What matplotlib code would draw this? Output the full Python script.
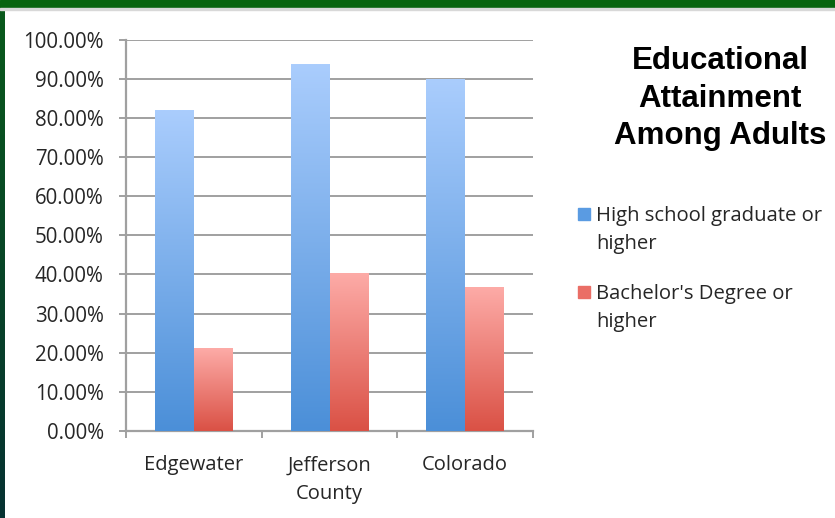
import matplotlib
matplotlib.use("Agg")
import matplotlib.pyplot as plt
import numpy as np
from matplotlib.colors import LinearSegmentedColormap
from matplotlib.patches import Rectangle

# Data
categories = ["Edgewater", "Jefferson\nCounty", "Colorado"]
series_names = ["High school graduate or\nhigher", "Bachelor's Degree or\nhigher"]
hs_or_higher = [81.8, 93.5, 89.8]
bachelors_or_higher = [21.1, 40.3, 36.6]
y_ticks = [0, 10, 20, 30, 40, 50, 60, 70, 80, 90, 100]

blue_grad = LinearSegmentedColormap.from_list("b", ["#4b8fd8", "#aacdfd"])
red_grad = LinearSegmentedColormap.from_list("r", ["#da5145", "#fdaba7"])
text_col = "#262626"
grid_col = "#a0a0a0"

plt.rcParams["font.family"] = ["Open Sans", "DejaVu Sans"]

W, H = 835, 518
fig = plt.figure(figsize=(W / 100, H / 100), dpi=100)
fig.patch.set_facecolor("white")

# green frame: top band and left gradient strip
fig.patches.append(Rectangle((0, 1 - 8 / H), 1, 8 / H, transform=fig.transFigure,
                             color="#07640f", zorder=0))
fig.patches.append(Rectangle((0, 1 - 10 / H), 1, 2 / H, transform=fig.transFigure,
                             color="#d8d8d8", zorder=0))
strip = fig.add_axes([0, 0, 5 / W, 1 - 8 / H])
strip.imshow(np.linspace(0, 1, 100).reshape(-1, 1), aspect="auto",
             cmap=LinearSegmentedColormap.from_list("g", ["#0a5a1c", "#063232"]))
strip.axis("off")

ax = fig.add_axes([126 / W, (H - 431) / H, 407 / W, 391.5 / H])
x = np.arange(len(categories))
bw = 0.287

bars1 = ax.bar(x - bw / 2, hs_or_higher, bw, facecolor="none", edgecolor="none", zorder=3)
bars2 = ax.bar(x + bw / 2, bachelors_or_higher, bw, facecolor="none", edgecolor="none", zorder=3)

grad = np.linspace(0, 1, 256).reshape(-1, 1)
for bars, cmap in [(bars1, blue_grad), (bars2, red_grad)]:
    for b in bars:
        x0, w, h = b.get_x(), b.get_width(), b.get_height()
        ax.imshow(grad, extent=[x0, x0 + w, 0, h], origin="lower", aspect="auto",
                  cmap=cmap, zorder=3)

ax.set_xlim(-0.5, 2.5)
ax.set_ylim(0, 100)
ax.set_yticks(y_ticks)
ax.set_yticklabels([f"{v:.2f}%" for v in y_ticks])
ax.yaxis.grid(True, color=grid_col, linewidth=1.4, zorder=0)
ax.set_axisbelow(True)

ax.set_xticks(x)
ax.set_xticklabels(categories, linespacing=1.6)
ax.set_xticks([-0.5, 0.5, 1.5, 2.5], minor=True)
ax.tick_params(axis="x", which="major", length=0, pad=17.5, labelsize=14.5, labelcolor=text_col)
ax.tick_params(axis="x", which="minor", length=5, width=1.4, color=grid_col)
ax.tick_params(axis="y", length=5, width=1.4, color=grid_col, pad=11,
               labelsize=14.8, labelcolor=text_col)

for s in ["top", "right"]:
    ax.spines[s].set_visible(False)
for s in ["left", "bottom"]:
    ax.spines[s].set_color(grid_col)
    ax.spines[s].set_linewidth(1.6)

# title
fig.text(720 / W, 1 - 46 / H, "Educational\nAttainment\nAmong Adults", ha="center", va="top",
         fontsize=22.5, fontweight="bold", family=["Liberation Sans", "DejaVu Sans"],
         linespacing=1.33, color="black")

# legend
sw_colors = ["#5a9be2", "#ea6e66"]
leg_y = [214, 292]
for name, col, yy in zip(series_names, sw_colors, leg_y):
    fig.patches.append(Rectangle((578 / W, 1 - (yy + 6) / H), 12 / W, 12 / H,
                                 transform=fig.transFigure, color=col))
    fig.text(596 / W, 1 - (yy - 8) / H, name, ha="left", va="top", fontsize=14.6,
             color=text_col, linespacing=1.5)

fig.savefig("out.png", dpi=100)
